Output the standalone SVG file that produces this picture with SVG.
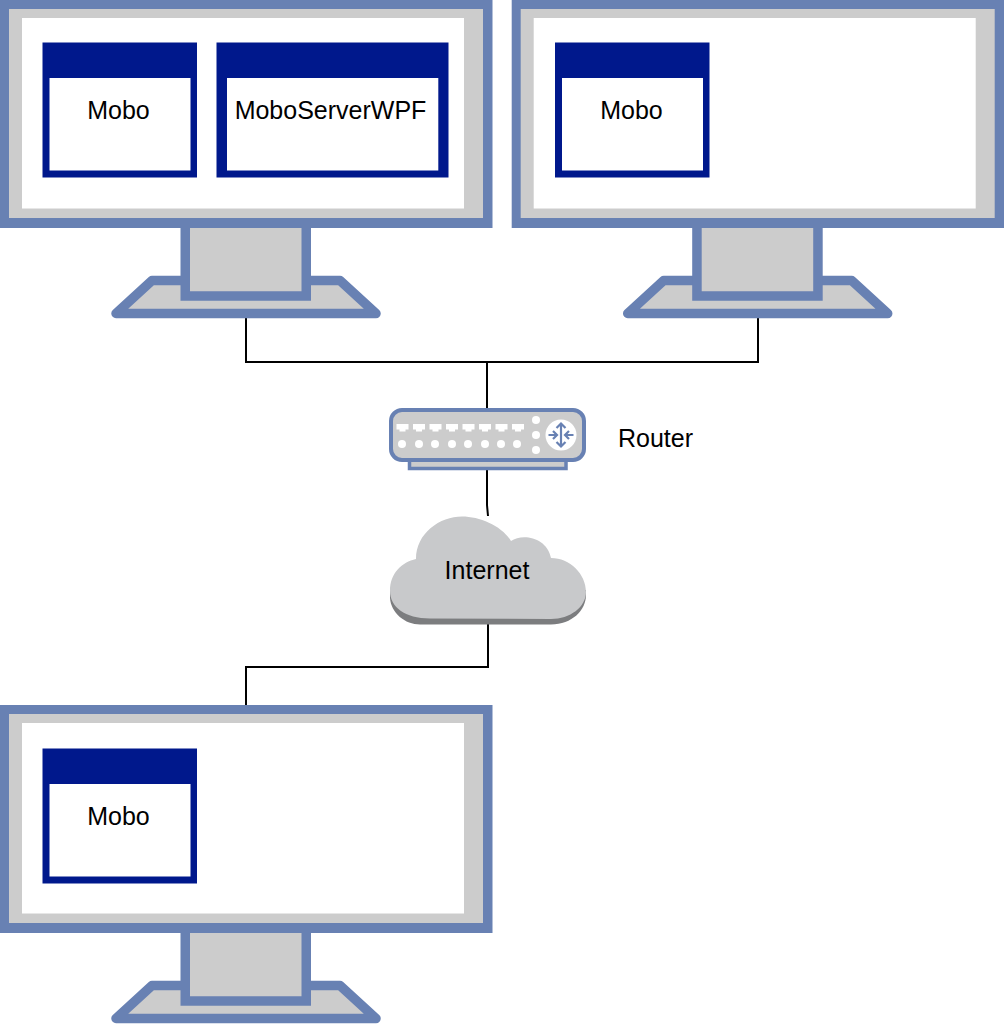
<svg xmlns="http://www.w3.org/2000/svg" xmlns:xlink="http://www.w3.org/1999/xlink" width="1004" height="1024" viewBox="0 0 1004 1024">
<style>
text{font-family:"Liberation Sans",Arial,sans-serif;font-size:25px;fill:#000;text-anchor:middle}
.b{stroke:#6881b3;stroke-width:9.5;stroke-linejoin:miter}
.g{fill:#ccc}
.w{fill:#fff}
.n{fill:#00188c}
.c{fill:none;stroke:#000;stroke-width:2}
</style>
<defs>
<g id="monitor">
<path class="b g" d="M116 313.500 L152 280.500 L340 280.500 L376 313.500 Z" style="stroke-linejoin:round"/>
<rect class="b g" x="185.250" y="223" width="121" height="73"/>
<rect x="0" y="0" width="492.500" height="228" fill="#6881b3"/>
<rect class="g" x="9" y="9" width="474" height="209"/>
<rect class="w" x="22" y="18" width="442" height="190.500"/>
</g>
<g id="win">
<rect class="n" x="0" y="0" width="154.500" height="135"/>
<rect class="w" x="7" y="35.500" width="141" height="92.500"/>
</g>
</defs>
<g id="connectors">
<path class="c" d="M246 318V362H758V318M487 362V408"/>
<path class="c" d="M487 470V505L488 516"/>
<path class="c" d="M488 624V667H246V706"/>
</g>
<g id="monitor1"><use xlink:href="#monitor" href="#monitor"/></g>
<g id="monitor2"><use xlink:href="#monitor" href="#monitor" x="511.700"/></g>
<g id="monitor3"><use xlink:href="#monitor" href="#monitor" y="705"/></g>
<g id="app1"><use href="#win" x="42.500" y="42.500"/><text x="118.500" y="119">Mobo</text></g>
<g id="app2"><rect class="n" x="216.500" y="42.500" width="232" height="135"/><rect class="w" x="227" y="78" width="211.300" height="92.500"/><text x="330.500" y="119">MoboServerWPF</text></g>
<g id="app3"><use href="#win" x="555" y="42.500"/><text x="631.500" y="119">Mobo</text></g>
<g id="app4"><use href="#win" x="42.500" y="748.500"/><text x="118.500" y="825">Mobo</text></g>
<g id="router">
<rect x="409.500" y="460" width="156.500" height="8.500" fill="#ccc" stroke="#6881b3" stroke-width="3.500"/>
<rect x="391" y="410" width="193" height="50" rx="11" fill="#ccc" stroke="#6881b3" stroke-width="4"/>
<g fill="#fff">
<path id="p" d="M396.500 424H408.500V429.500H405.500V431.500H399.500V429.500H396.500Z"/>
<use href="#p" x="16.500"/><use href="#p" x="33"/><use href="#p" x="49.500"/><use href="#p" x="66"/><use href="#p" x="82.500"/><use href="#p" x="99"/><use href="#p" x="115.500"/>
<circle cx="402" cy="444" r="4"/><circle cx="419" cy="444" r="4"/><circle cx="435" cy="444" r="4"/><circle cx="452" cy="444" r="4"/><circle cx="468" cy="444" r="4"/><circle cx="485" cy="444" r="4"/><circle cx="501" cy="444" r="4"/><circle cx="517" cy="444" r="4"/>
<circle cx="536" cy="420" r="4"/><circle cx="536" cy="435" r="4"/><circle cx="536" cy="450" r="4"/>
<circle cx="561" cy="435" r="15.500"/>
</g>
<path d="M561 424V446M556.500 428L561 423.500L565.500 428M556.500 442L561 446.500L565.500 442M548.500 435H556.500M553 431L557 435L553 439M573.500 435H565.500M569 431L565 435L569 439" fill="none" stroke="#6881b3" stroke-width="2.200"/>
</g>
<text x="655.500" y="447">Router</text>
<g id="internet">
<path d="M390 590V598C391 613 405 624.500 420 624.500H551C572 624.500 586 610 586 595V590Z" fill="#7c7d7f"/>
<path d="M416 559C416 533 440 516.500 462 516.500C480 516.500 502 526 511 541C522 533 547 537 551 558C570 558 586 574 586 592C586 607 570 619 551 619L430 618.500C405 618.500 390 607 390 591C390 573 402 562 416 559Z" fill="#c8c9cb"/>
<text x="487" y="579">Internet</text>
</g>
</svg>
